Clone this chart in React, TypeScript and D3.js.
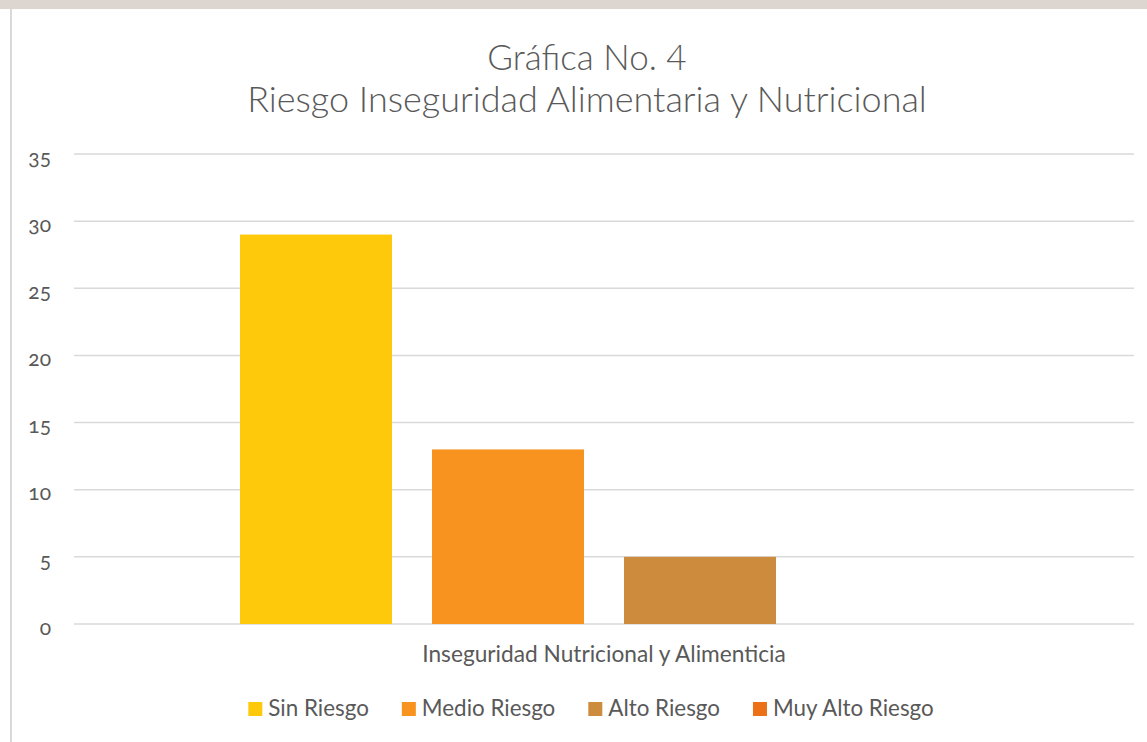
import * as d3 from "d3";
import { useEffect, useRef } from "react";

const categories = ["Inseguridad Nutricional y Alimenticia"];
const series = ["Sin Riesgo", "Medio Riesgo", "Alto Riesgo", "Muy Alto Riesgo"];
const values = [29, 13, 5, 0];
const colors = ["#FFC90B", "#F7931E", "#CD8B3E", "#EC7016"];
const yTicks = [0, 5, 10, 15, 20, 25, 30, 35];
const titleLines = ["Gráfica No. 4", "Riesgo Inseguridad Alimentaria y Nutricional"];

const width = 1147;
const height = 742;
const font = "Lato, 'Open Sans', sans-serif";
const textColor = "#595959";

const App = () => {
    const svgRef = useRef<SVGSVGElement>(null);

    useEffect(() => {
        const margin = { top: 154, right: 13, bottom: 118, left: 74 };
        const innerWidth = width - margin.left - margin.right;
        const innerHeight = height - margin.top - margin.bottom;

        const svg = d3.select(svgRef.current);
        svg.selectAll("*").remove();

        // page frame: top band and left border
        svg.append("rect").attr("width", width).attr("height", height).attr("fill", "#fff");
        svg.append("rect").attr("width", width).attr("height", 9).attr("fill", "#DDD6D0");
        svg.append("rect").attr("x", 10).attr("y", 9).attr("width", 2).attr("height", height).attr("fill", "#D9D9D9");

        // title
        svg.append("text")
            .attr("x", 587)
            .attr("y", 70)
            .attr("text-anchor", "middle")
            .attr("font-family", font)
            .attr("font-size", 35)
            .attr("font-weight", 300)
            .attr("fill", textColor)
            .text(titleLines[0]);
        svg.append("text")
            .attr("x", 587)
            .attr("y", 112)
            .attr("text-anchor", "middle")
            .attr("font-family", font)
            .attr("font-size", 36)
            .attr("font-weight", 300)
            .attr("fill", textColor)
            .text(titleLines[1]);

        const g = svg.append("g").attr("transform", `translate(${margin.left},${margin.top})`);

        const y = d3.scaleLinear().domain([0, 35]).range([innerHeight, 0]);

        const x0 = d3.scaleBand().domain(categories).range([0, innerWidth]).paddingInner(0).paddingOuter(0.228);
        const x1 = d3.scaleBand().domain(series).range([0, x0.bandwidth()]).paddingInner(40 / 192).paddingOuter(0);

        // gridlines
        g.selectAll(".grid")
            .data(yTicks)
            .join("line")
            .attr("x1", 0)
            .attr("x2", innerWidth)
            .attr("y1", (d) => y(d))
            .attr("y2", (d) => y(d))
            .attr("stroke", "#D9D9D9")
            .attr("stroke-width", 1.5);

        // y axis labels
        g.selectAll(".ylab")
            .data(yTicks)
            .join("text")
            .attr("x", -23)
            .attr("y", (d) => y(d) + 4)
            .attr("dy", "0.32em")
            .attr("text-anchor", "end")
            .attr("font-family", font)
            .attr("font-size", 21)
            .style("font-variant-numeric", "oldstyle-nums")
            .attr("fill", textColor)
            .text((d) => d);

        // bars
        const group = g.selectAll(".cat")
            .data(categories)
            .join("g")
            .attr("transform", (d) => `translate(${x0(d)},0)`);

        group.selectAll("rect")
            .data(series.map((s, i) => ({ s, v: values[i], c: colors[i] })))
            .join("rect")
            .attr("x", (d) => x1(d.s)!)
            .attr("y", (d) => y(d.v))
            .attr("width", x1.bandwidth())
            .attr("height", (d) => innerHeight - y(d.v))
            .attr("fill", (d) => d.c);

        // category label
        g.selectAll(".xlab")
            .data(categories)
            .join("text")
            .attr("x", (d) => x0(d)! + x0.bandwidth() / 2)
            .attr("y", innerHeight + 38)
            .attr("text-anchor", "middle")
            .attr("font-family", font)
            .attr("font-size", 22.7)
            .attr("fill", textColor)
            .text((d) => d);

        // legend, laid out by measured text width
        const legend = svg.append("g");
        let cx = 0;
        series.forEach((s, i) => {
            const item = legend.append("g").attr("transform", `translate(${cx},0)`);
            item.append("rect").attr("x", 0).attr("y", -14).attr("width", 14).attr("height", 14).attr("fill", colors[i]);
            const t = item.append("text")
                .attr("x", 20)
                .attr("y", 0)
                .attr("font-family", font)
                .attr("font-size", 22.4)
                .attr("fill", textColor)
                .text(s);
            const w = (t.node() as SVGTextElement).getComputedTextLength();
            cx += 20 + w + 33;
        });
        const total = cx - 33;
        legend.attr("transform", `translate(${591 - total / 2},716)`);
    }, []);

    return (
        <svg
            ref={svgRef}
            width={width}
            height={height}
            style={{ position: "absolute", left: 0, top: 0 }}
        />
    );
};

export default App;
